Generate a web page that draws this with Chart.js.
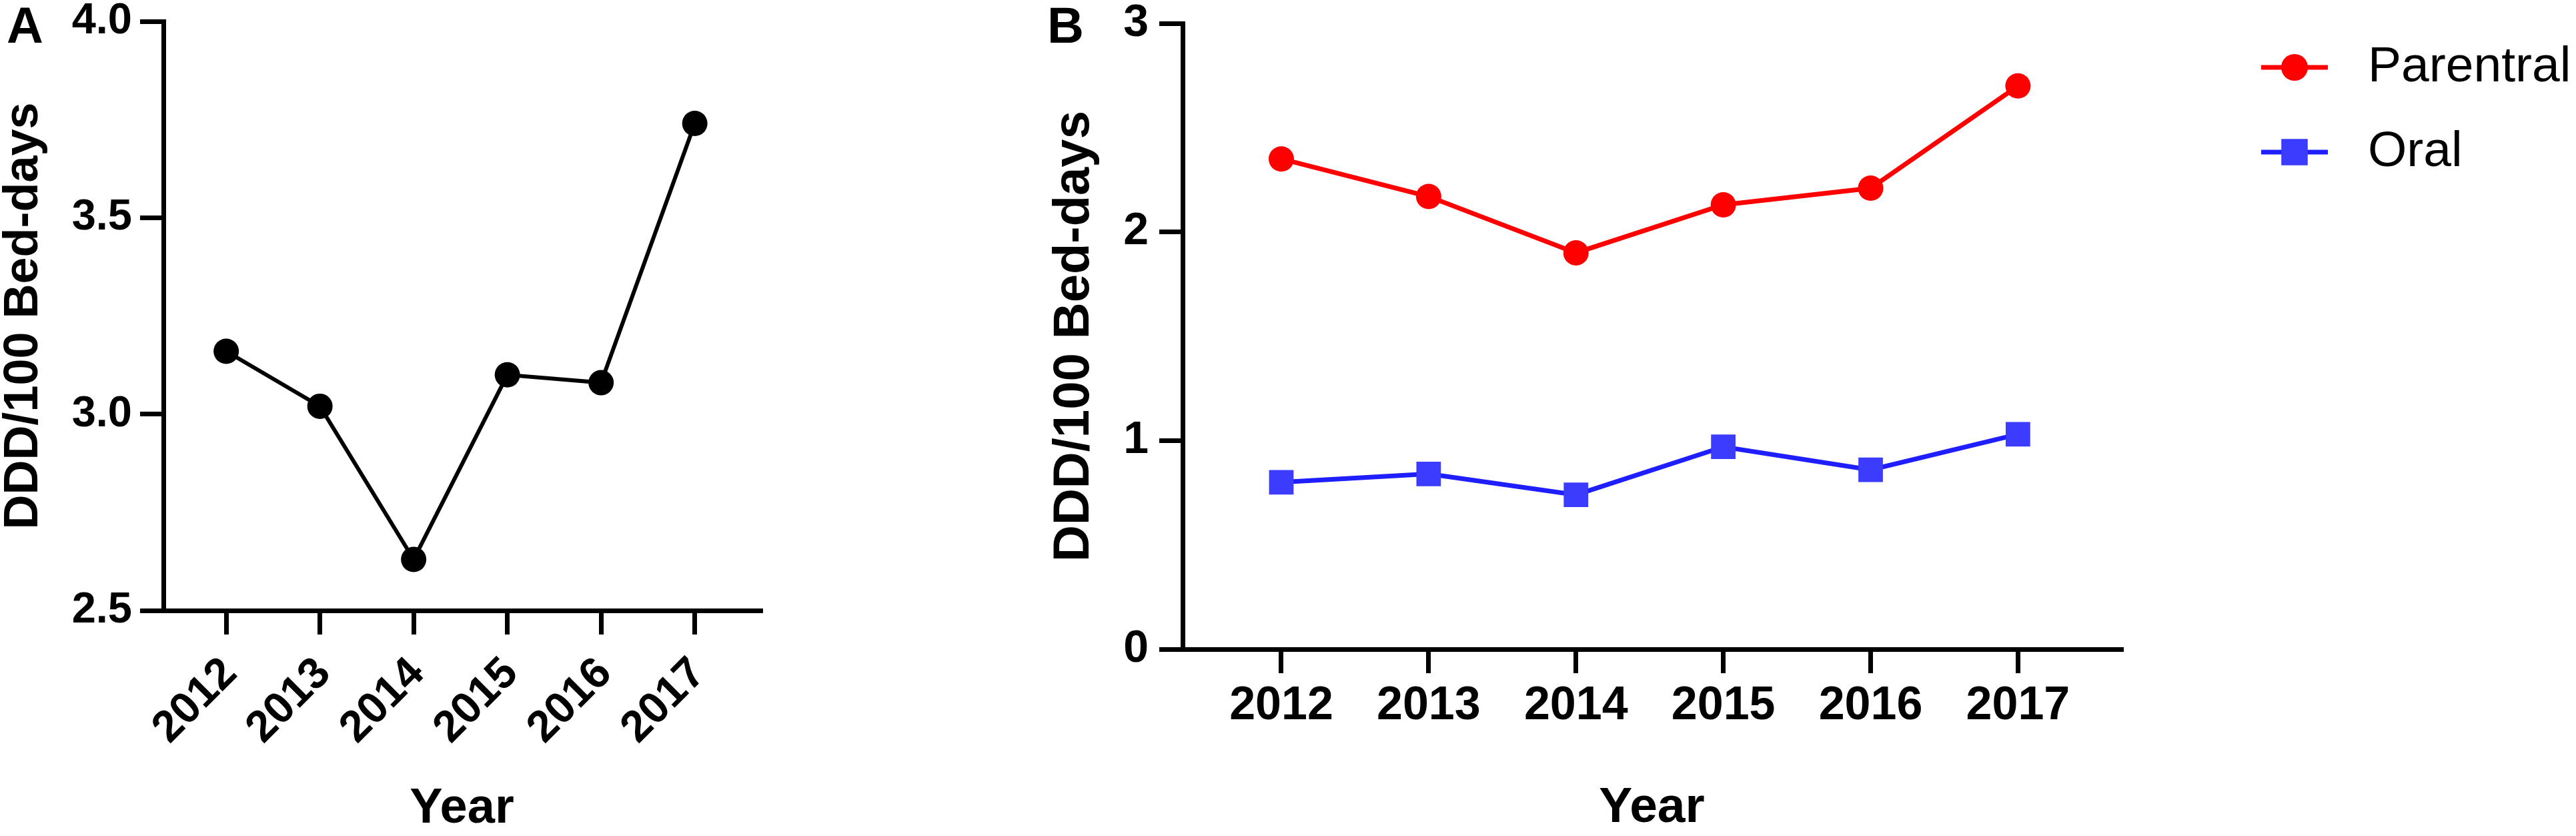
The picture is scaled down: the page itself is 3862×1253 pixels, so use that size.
<!DOCTYPE html>
<html>
<head>
<meta charset="utf-8">
<script src="https://cdn.jsdelivr.net/npm/chart.js@4.4.1/dist/chart.umd.min.js"></script>
<style>
  html, body { margin: 0; padding: 0; background: #fff; }
  body { width: 3862px; height: 1253px; position: relative; overflow: hidden; font-family: "Liberation Sans", Arial, sans-serif; }
  .panel { position: absolute; top: 0; }
  .tag { position: absolute; top: 0; z-index: 2; font-weight: bold; font-size: 76px; line-height: 1; color: #000; }
</style>
</head>
<body>
<div class="panel" style="left:0;width:1160px;height:1253px"><canvas id="chartA" width="1160" height="1253"></canvas></div>
<div class="panel" style="left:1550px;width:2312px;height:1253px"><canvas id="chartB" width="2312" height="1253"></canvas></div>
<div class="tag" style="left:10px">A</div>
<div class="tag" style="left:1570px">B</div>
<script>
// values
const years = [2012, 2013, 2014, 2015, 2016, 2017];
const totalUse = [3.16, 3.02, 2.63, 3.10, 3.08, 3.74];
const parentralUse = [2.35, 2.17, 1.90, 2.13, 2.21, 2.70];
const oralUse = [0.80, 0.84, 0.74, 0.97, 0.86, 1.03];
const ticksA = [2.5, 3.0, 3.5, 4.0];
const ticksB = [0, 1, 2, 3];
const seriesNames = ["Parentral", "Oral"];
const xTitle = "Year";
const yTitle = "DDD/100 Bed-days";

const FONT = '"Liberation Sans", Arial, sans-serif';
Chart.defaults.font.family = FONT;
Chart.defaults.color = "#000";

const toPoints = (vals) => years.map((yr, i) => ({ x: yr, y: vals[i] }));

// pin the axis box size so the plot area lands where the figure has it
function fixBox(size) {
  return (s) => {
    if (s.isHorizontal()) s.height = size;
    else s.width = size;
    s.paddingTop = s.paddingBottom = s.paddingLeft = s.paddingRight = 0;
  };
}

function axisLines(tickLength, width) {
  return {
    grid: { drawOnChartArea: false, drawTicks: true, tickLength: tickLength, lineWidth: width, color: "#000" },
    border: { display: true, width: width, color: "#000" },
  };
}

function xAxis(height, fontSize, rotation, pad, shift, titleSize, titlePad) {
  return Object.assign({
    type: "linear",
    min: 2011.33,
    max: 2017.70,
    afterBuildTicks: (s) => { s.ticks = years.map((v) => ({ value: v })); },
    afterFit: fixBox(height),
    ticks: {
      callback: (v) => String(v),
      font: { size: fontSize, weight: "bold" },
      minRotation: rotation,
      maxRotation: rotation,
      padding: pad,
      labelOffset: shift,
    },
    title: {
      display: true,
      text: xTitle,
      font: { size: titleSize, weight: "bold", lineHeight: 1 },
      padding: { top: 0, bottom: titlePad },
    },
  }, axisLines(36, 7));
}

function yAxis(width, tickVals, min, max, fmt, fontSize, titleSize, titlePad, tickPad) {
  return Object.assign({
    min: min,
    max: max,
    afterBuildTicks: (s) => { s.ticks = tickVals.map((v) => ({ value: v })); },
    afterFit: fixBox(width),
    ticks: {
      callback: fmt,
      font: { size: fontSize, weight: "bold", lineHeight: 1 },
      padding: tickPad,
    },
    title: {
      display: true,
      text: yTitle,
      font: { size: titleSize, weight: "bold", lineHeight: 1 },
      padding: { top: titlePad, bottom: 0 },
    },
  }, axisLines(35, 7));
}

// legend drawn as line + marker + name, like the figure
const lineLegend = {
  id: "lineLegend",
  afterDraw(chart) {
    const { ctx, chartArea } = chart;
    ctx.save();
    chart.data.datasets.forEach((ds, i) => {
      const y = chartArea.top + 66 + i * 127;
      const x0 = chartArea.right + 210;
      ctx.strokeStyle = ds.borderColor;
      ctx.lineWidth = ds.borderWidth;
      ctx.beginPath();
      ctx.moveTo(x0, y);
      ctx.lineTo(x0 + 100, y);
      ctx.stroke();
      ctx.fillStyle = ds.pointBackgroundColor;
      Chart.helpers.drawPoint(ctx, {
        pointStyle: ds.pointStyle,
        radius: ds.pointStyle === "rect" ? 28 : 20,
        borderWidth: 0,
        rotation: 0,
      }, x0 + 50, y);
      ctx.fillStyle = "#000";
      ctx.font = "75px " + FONT;
      ctx.textAlign = "left";
      ctx.textBaseline = "middle";
      ctx.fillText(ds.label, x0 + 160, y);
    });
    ctx.restore();
  },
};

const commonOpts = {
  responsive: false,
  animation: false,
  devicePixelRatio: 1,
  events: [],
  plugins: { legend: { display: false }, tooltip: { enabled: false } },
};

new Chart(document.getElementById("chartA"), {
  type: "line",
  data: {
    datasets: [{
      label: "Total",
      data: toPoints(totalUse),
      borderColor: "#000",
      borderWidth: 6,
      pointStyle: "circle",
      pointRadius: 19,
      pointBackgroundColor: "#000",
      pointBorderWidth: 0,
    }],
  },
  options: Object.assign({}, commonOpts, {
    layout: { padding: { top: 32, right: 20, bottom: 0, left: 0 } },
    scales: {
      x: xAxis(338, 66, 45, 20, 6, 74, 3),
      y: yAxis(245, ticksA, 2.5, 4.0, (v) => v.toFixed(1), 65, 72, 0, 12),
    },
  }),
});

new Chart(document.getElementById("chartB"), {
  type: "line",
  data: {
    datasets: [
      {
        label: seriesNames[0],
        data: toPoints(parentralUse),
        borderColor: "#ff0000",
        borderWidth: 7,
        pointStyle: "circle",
        pointRadius: 19,
        pointBackgroundColor: "#ff0000",
        pointBorderWidth: 0,
      },
      {
        label: seriesNames[1],
        data: toPoints(oralUse),
        borderColor: "#1e1eff",
        borderWidth: 7,
        pointStyle: "rect",
        pointRadius: 26,
        pointBackgroundColor: "#3c3cff",
        pointBorderWidth: 0,
      },
    ],
  },
  options: Object.assign({}, commonOpts, {
    layout: { padding: { top: 35, right: 682, bottom: 0, left: 0 } },
    scales: {
      x: xAxis(280, 70, 0, 8, 0, 75, 4),
      y: yAxis(223, ticksB, 0, 3, (v) => String(v), 68, 76, 23, 16),
    },
  }),
  plugins: [lineLegend],
});
</script>
</body>
</html>
